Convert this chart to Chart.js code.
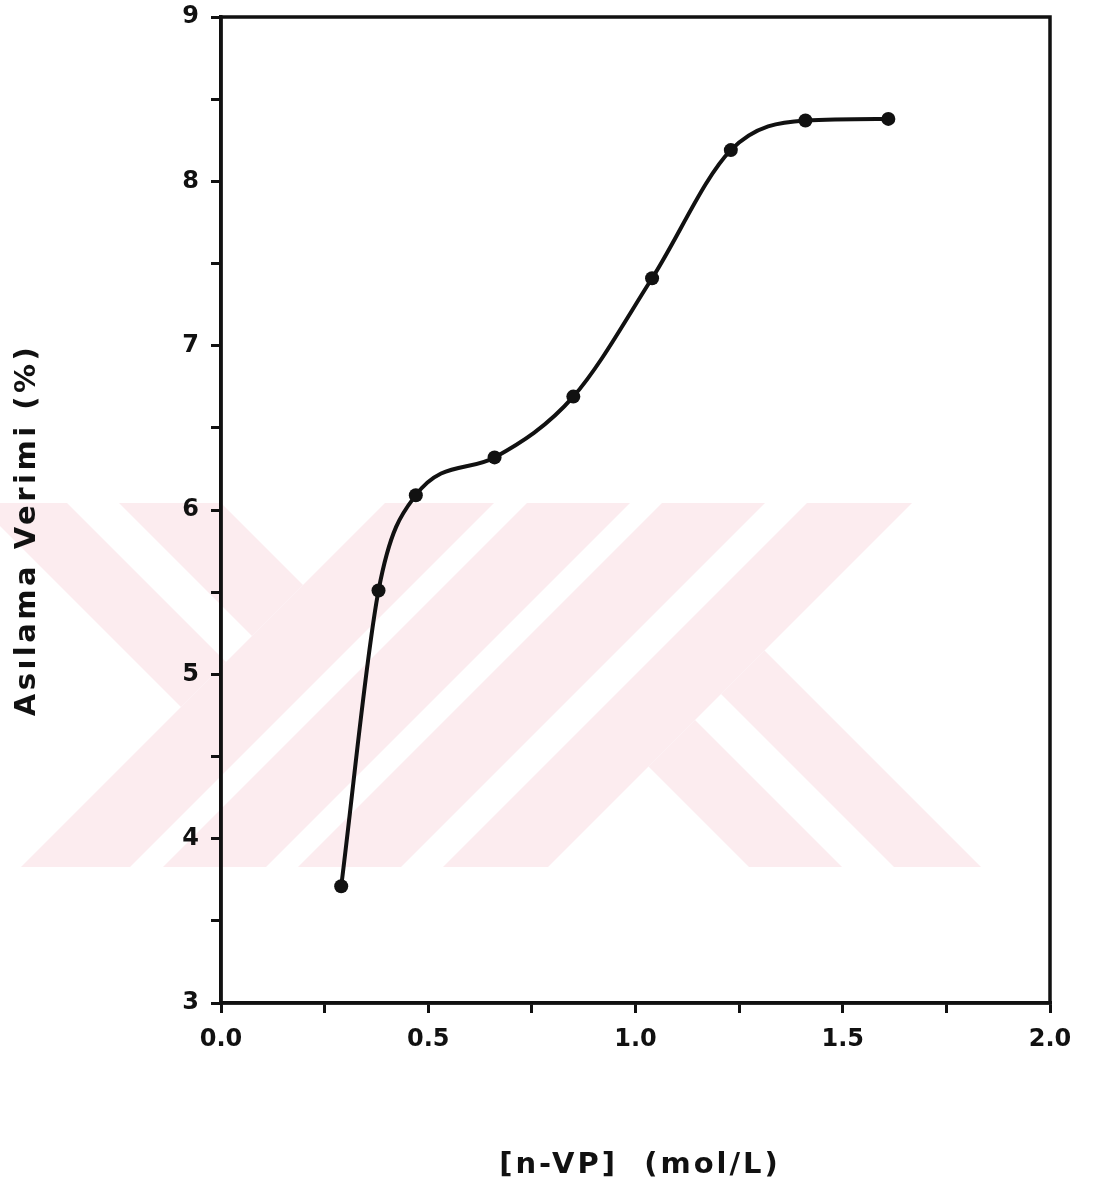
<!DOCTYPE html>
<html>
<head>
<meta charset="utf-8">
<title>Aşılama Verimi</title>
<script src="https://cdn.jsdelivr.net/npm/chart.js@4.4.1/dist/chart.umd.min.js"></script>
<style>
  html, body { margin: 0; padding: 0; background: #fff; }
  #wrap { width: 1097px; height: 1199px; }
</style>
</head>
<body>
<div id="wrap"><canvas id="chart" width="1097" height="1199"></canvas></div>
<script>
// [n-VP] concentration (mol/L)
const nvp = [0.29, 0.38, 0.47, 0.66, 0.85, 1.04, 1.23, 1.41, 1.61];
// grafting yield (%)
const yieldPct = [3.71, 5.51, 6.09, 6.32, 6.69, 7.41, 8.19, 8.37, 8.38];

const xTitle = '[n-VP]  (mol/L)';
const yTitle = 'Asılama Verimi (%)';
const xMin = 0, xMax = 2, xStep = 0.25;
const yMin = 3, yMax = 9, yStep = 0.5;

const fontFamily = '"DejaVu Sans", Lato, sans-serif';
const ink = '#111';

// faint pink watermark in the background of the scan
const watermark = {
    id: 'watermark',
    beforeDraw(chart) {
        const ctx = chart.ctx;
        const y0 = 400, y1 = 1000;
        const slash = (a, b) => [[a - y0, y0], [b - y0, y0], [b - y1, y1], [a - y1, y1]];
        const back = (a, b) => [[a + y0, y0], [b + y0, y0], [b + y1, y1], [a + y1, y1]];
        const fillPoly = pts => {
            ctx.beginPath();
            pts.forEach((p, i) => i ? ctx.lineTo(p[0], p[1]) : ctx.moveTo(p[0], p[1]));
            ctx.closePath();
            ctx.fill();
        };
        ctx.save();
        ctx.fillStyle = '#fcecef';
        ctx.beginPath();
        ctx.rect(0, 503, 990, 364);
        ctx.clip();
        // "/" bands
        [[888, 997], [1030, 1133], [1165, 1268], [1310, 1415]].forEach(b => fillPoly(slash(b[0], b[1])));
        // Y arms (left of stem)
        ctx.save();
        ctx.beginPath();
        ctx.moveTo(888 - y0, y0); ctx.lineTo(888 - y1, y1); ctx.lineTo(-2000, y1); ctx.lineTo(-2000, y0);
        ctx.closePath();
        ctx.clip();
        [[-526, -436], [-384, -282]].forEach(b => fillPoly(back(b[0], b[1])));
        ctx.restore();
        // K arms (right of stem)
        ctx.save();
        ctx.beginPath();
        ctx.moveTo(1415 - y0, y0); ctx.lineTo(1415 - y1, y1); ctx.lineTo(3000, y1); ctx.lineTo(3000, y0);
        ctx.closePath();
        ctx.clip();
        [[-118, -25], [27, 114]].forEach(b => fillPoly(back(b[0], b[1])));
        ctx.restore();
        ctx.restore();
    }
};

// closed frame + axis titles (letter-spaced like the original)
const frame = {
    id: 'frame',
    afterDraw(chart) {
        const { ctx, chartArea: a } = chart;
        ctx.save();
        ctx.strokeStyle = ink;
        ctx.lineWidth = 3.5;
        ctx.strokeRect(a.left, a.top, a.right - a.left, a.bottom - a.top);
        ctx.fillStyle = ink;
        ctx.textAlign = 'center';
        ctx.textBaseline = 'middle';
        ctx.font = 'bold 29px ' + fontFamily;
        ctx.letterSpacing = '3px';
        ctx.fillText(xTitle, 640, 1165);
        ctx.translate(27, 530);
        ctx.rotate(-Math.PI / 2);
        ctx.letterSpacing = '3.5px';
        ctx.fillText(yTitle, 0, 0);
        ctx.restore();
    }
};

const points = nvp.map((x, i) => ({ x: x, y: yieldPct[i] }));

new Chart(document.getElementById('chart'), {
    type: 'scatter',
    data: {
        datasets: [{
            data: points,
            showLine: true,
            borderColor: ink,
            borderWidth: 4,
            backgroundColor: ink,
            pointRadius: 7,
            pointBorderWidth: 0,
            cubicInterpolationMode: 'monotone'
        }]
    },
    options: {
        responsive: false,
        animation: false,
        layout: { padding: { top: 17, right: 47, left: 0, bottom: 0 } },
        plugins: {
            legend: { display: false },
            tooltip: { enabled: false }
        },
        scales: {
            x: {
                type: 'linear',
                min: xMin,
                max: xMax,
                afterFit: s => { s.height = 196; s.paddingLeft = 0; s.paddingRight = 0; },
                border: { display: true, color: ink, width: 3.5 },
                grid: { drawOnChartArea: false, drawTicks: true, tickLength: 10, color: ink, lineWidth: 3 },
                ticks: {
                    stepSize: xStep,
                    color: ink,
                    padding: 12,
                    maxRotation: 0,
                    autoSkip: false,
                    font: { family: fontFamily, size: 24, weight: 'bold' },
                    callback: v => (Math.abs(v * 2 - Math.round(v * 2)) < 1e-6 ? v.toFixed(1) : '')
                }
            },
            y: {
                type: 'linear',
                min: yMin,
                max: yMax,
                afterFit: s => { s.width = 221; s.paddingTop = 0; s.paddingBottom = 0; },
                border: { display: true, color: ink, width: 3.5 },
                grid: { drawOnChartArea: false, drawTicks: true, tickLength: 10, color: ink, lineWidth: 3 },
                ticks: {
                    stepSize: yStep,
                    color: ink,
                    padding: 12,
                    autoSkip: false,
                    font: { family: fontFamily, size: 24, weight: 'bold' },
                    callback: v => (Number.isInteger(v) ? String(v) : '')
                }
            }
        }
    },
    plugins: [watermark, frame]
});
</script>
</body>
</html>
